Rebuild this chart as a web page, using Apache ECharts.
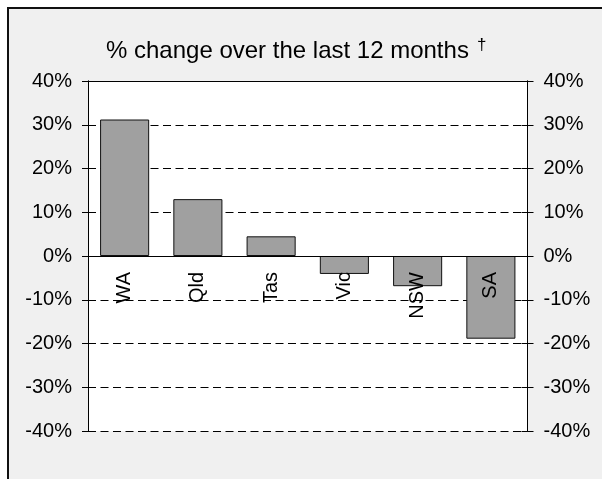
<!DOCTYPE html>
<html>
<head>
<meta charset="utf-8">
<script src="https://cdn.jsdelivr.net/npm/echarts@6/dist/echarts.min.js"></script>
<style>
html,body{margin:0;padding:0;background:#fff;}
#c{width:602px;height:479px;}
</style>
</head>
<body>
<div id="c"></div>
<script>
const categories = ['WA', 'Qld', 'Tas', 'Vic', 'NSW', 'SA'];
const changeValues = [31.2, 13.0, 4.5, -4.1, -6.9, -18.9];
const titleText = '% change over the last 12 months';
const yMin = -40, yMax = 40, yStep = 10;

const font = 'Liberation Sans, Arial, sans-serif';
const chart = echarts.init(document.getElementById('c'), null, {renderer: 'canvas'});

const gridTop = 81, gridHeight = 350;
// shift category axis from the grid bottom up to the zero value line
const zeroOffset = -gridHeight * (0 - yMin) / (yMax - yMin);

function yAx(pos, inside, labels) {
  return {
    type: 'value', position: pos, min: yMin, max: yMax, interval: yStep,
    axisLine: {show: true, lineStyle: {color: '#000', width: 1}},
    axisTick: {show: true, inside: inside, length: 6, lineStyle: {color: '#000'}},
    axisLabel: {show: labels, formatter: '{value}%', fontSize: 20, color: '#000', fontFamily: font, margin: 16},
    splitLine: {show: false}
  };
}

const option = {
  animation: false,
  backgroundColor: 'transparent',
  graphic: [{
    type: 'rect', silent: true, z: -100,
    shape: {x: 8, y: 8, width: 700, height: 600},
    style: {fill: '#f0f0f0', stroke: '#111', lineWidth: 2}
  }],
  title: {
    text: titleText + '{s|†}',
    left: 101, top: 32,
    textStyle: {
      fontSize: 24, fontWeight: 'normal', color: '#000', fontFamily: font,
      rich: {s: {fontSize: 17, color: '#000', fontFamily: font, verticalAlign: 'top', padding: [0, 0, 12, 8]}}
    }
  },
  grid: {left: 88, right: 74.5, top: gridTop, height: gridHeight, show: true, backgroundColor: '#fff', borderWidth: 0, outerBoundsMode: 'none', containLabel: false},
  xAxis: [{
    type: 'category', data: categories, position: 'bottom', offset: zeroOffset,
    axisLine: {show: true, onZero: false, lineStyle: {color: '#000', width: 1}},
    axisTick: {show: false},
    axisLabel: {rotate: 90, fontSize: 20, color: '#000', fontFamily: font, margin: 16},
    z: 10
  }, {
    type: 'category', data: categories, position: 'top',
    axisLine: {show: true, onZero: false, lineStyle: {color: '#000', width: 1}},
    axisTick: {show: false}, axisLabel: {show: false}
  }],
  yAxis: [
    Object.assign(yAx('left', false, true), {
      splitLine: {show: true, lineStyle: {color: '#000', type: [8, 4.5], width: 1}}
    }),
    yAx('right', false, true),
    yAx('left', true, false),
    yAx('right', true, false)
  ],
  series: [{
    type: 'bar', data: changeValues, xAxisIndex: 0, yAxisIndex: 0,
    barWidth: '67%',
    itemStyle: {color: '#a0a0a0', borderColor: '#111', borderWidth: 1},
    z: 5
  }]
};
chart.setOption(option);
</script>
</body>
</html>
